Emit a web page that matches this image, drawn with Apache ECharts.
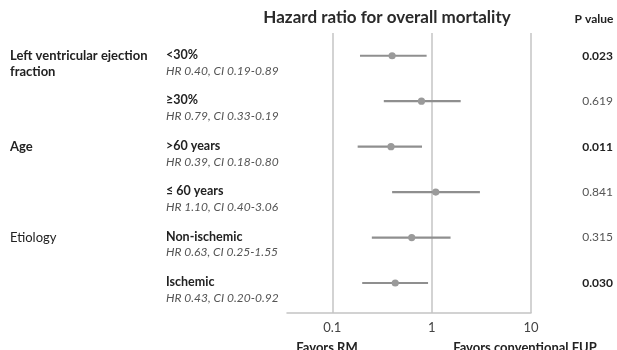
<!DOCTYPE html>
<html>
<head>
<meta charset="utf-8">
<script src="https://cdn.jsdelivr.net/npm/echarts@6/dist/echarts.min.js"></script>
<style>html,body{margin:0;padding:0;background:#fff}#c{width:617px;height:350px}</style>
</head>
<body>
<div id="c"></div>
<script>
const groupLabels = ['Left ventricular ejection\nfraction', '', 'Age', '', 'Etiology', ''];
const groupBold = [true, false, true, false, false, false];
const subgroups = ['<30%', '≥30%', '>60 years', '≤ 60 years', 'Non-ischemic', 'Ischemic'];
const hrTexts = ['HR 0.40, CI 0.19-0.89', 'HR 0.79, CI 0.33-0.19', 'HR 0.39, CI 0.18-0.80',
                 'HR 1.10, CI 0.40-3.06', 'HR 0.63, CI 0.25-1.55', 'HR 0.43, CI 0.20-0.92'];
const hr = [0.40, 0.79, 0.39, 1.10, 0.63, 0.43];
const ciLow = [0.19, 0.33, 0.18, 0.40, 0.25, 0.20];
const ciHigh = [0.89, 1.96, 0.80, 3.06, 1.55, 0.92];
const pValues = ['0.023', '0.619', '0.011', '0.841', '0.315', '0.030'];
const pBold = [true, false, true, false, false, true];
const xTicks = [0.1, 1, 10];

const FONT = 'Lato, "Open Sans", sans-serif';
const chart = echarts.init(document.getElementById('c'), null, {renderer: 'canvas'});

const rows = hr.map((v, i) => [v, i, ciLow[i], ciHigh[i]]);

chart.setOption({
  animation: false,
  backgroundColor: '#fff',
  grid: {left: 287, right: 86, top: 33, bottom: 37},
  xAxis: {
    type: 'log', logBase: 10, min: 0.035, max: 10,
    axisLine: {show: true, onZero: false, lineStyle: {color: '#c4c4c4', width: 1.5}},
    axisTick: {show: false},
    axisLabel: {
      showMinLabel: false, margin: 8, color: '#444', fontSize: 13, fontFamily: FONT,
      formatter: v => xTicks.some(t => Math.abs(t - v) < 1e-9) ? String(v) : ''
    },
    splitLine: {show: true, showMinLine: false, lineStyle: {color: '#c4c4c4', width: 1.5}}
  },
  yAxis: {
    type: 'value', min: -0.5, max: 5.66, inverse: true, show: false
  },
  series: [{
    type: 'custom',
    data: rows,
    encode: {x: [0, 2, 3], y: 1},
    renderItem: (params, api) => {
      const y = api.value(1);
      const p0 = api.coord([api.value(2), y]);
      const p1 = api.coord([api.value(3), y]);
      const c = api.coord([api.value(0), y]);
      return {
        type: 'group',
        children: [
          {type: 'line', shape: {x1: p0[0], y1: p0[1], x2: p1[0], y2: p1[1]},
           style: {stroke: '#8f8f8f', lineWidth: 2.2}},
          {type: 'circle', shape: {cx: c[0], cy: c[1], r: 3.6},
           style: {fill: '#9a9a9a'}}
        ]
      };
    }
  }]
});

const g = [];
g.push({type: 'text', x: 387, y: 18, style: {text: 'Hazard ratio for overall mortality', font: 'bold 17px ' + FONT,
  fill: '#2a2a2a', align: 'center', verticalAlign: 'middle'}});
g.push({type: 'text', x: 594, y: 19, style: {text: 'P value', font: 'bold 12px ' + FONT,
  fill: '#222', align: 'center', verticalAlign: 'middle'}});
for (let i = 0; i < hr.length; i++) {
  const y = chart.convertToPixel({yAxisIndex: 0}, i);
  if (groupLabels[i]) {
    g.push({type: 'text', x: 10, y: y - 8, style: {text: groupLabels[i],
      font: (groupBold[i] ? 'bold ' : '') + '13px ' + FONT, fill: '#222', lineHeight: 16, verticalAlign: 'top'}});
  }
  g.push({type: 'text', x: 166, y: y - 1, style: {text: subgroups[i], font: 'bold 12.5px ' + FONT,
    fill: '#222', verticalAlign: 'middle'}});
  g.push({type: 'text', x: 166, y: y + 15, style: {text: hrTexts[i], font: 'italic 12px ' + FONT,
    fill: '#555', verticalAlign: 'middle'}});
  g.push({type: 'text', x: 613, y: y, style: {text: pValues[i], font: (pBold[i] ? 'bold ' : '') + '12px ' + FONT,
    fill: pBold[i] ? '#222' : '#555', align: 'right', verticalAlign: 'middle'}});
}
g.push({type: 'text', x: 327, y: 348, style: {text: 'Favors RM', font: 'bold 13px ' + FONT,
  fill: '#222', align: 'center', verticalAlign: 'middle'}});
g.push({type: 'text', x: 525, y: 348, style: {text: 'Favors conventional FUP', font: 'bold 13px ' + FONT,
  fill: '#222', align: 'center', verticalAlign: 'middle'}});
chart.setOption({graphic: g});
</script>
</body>
</html>
